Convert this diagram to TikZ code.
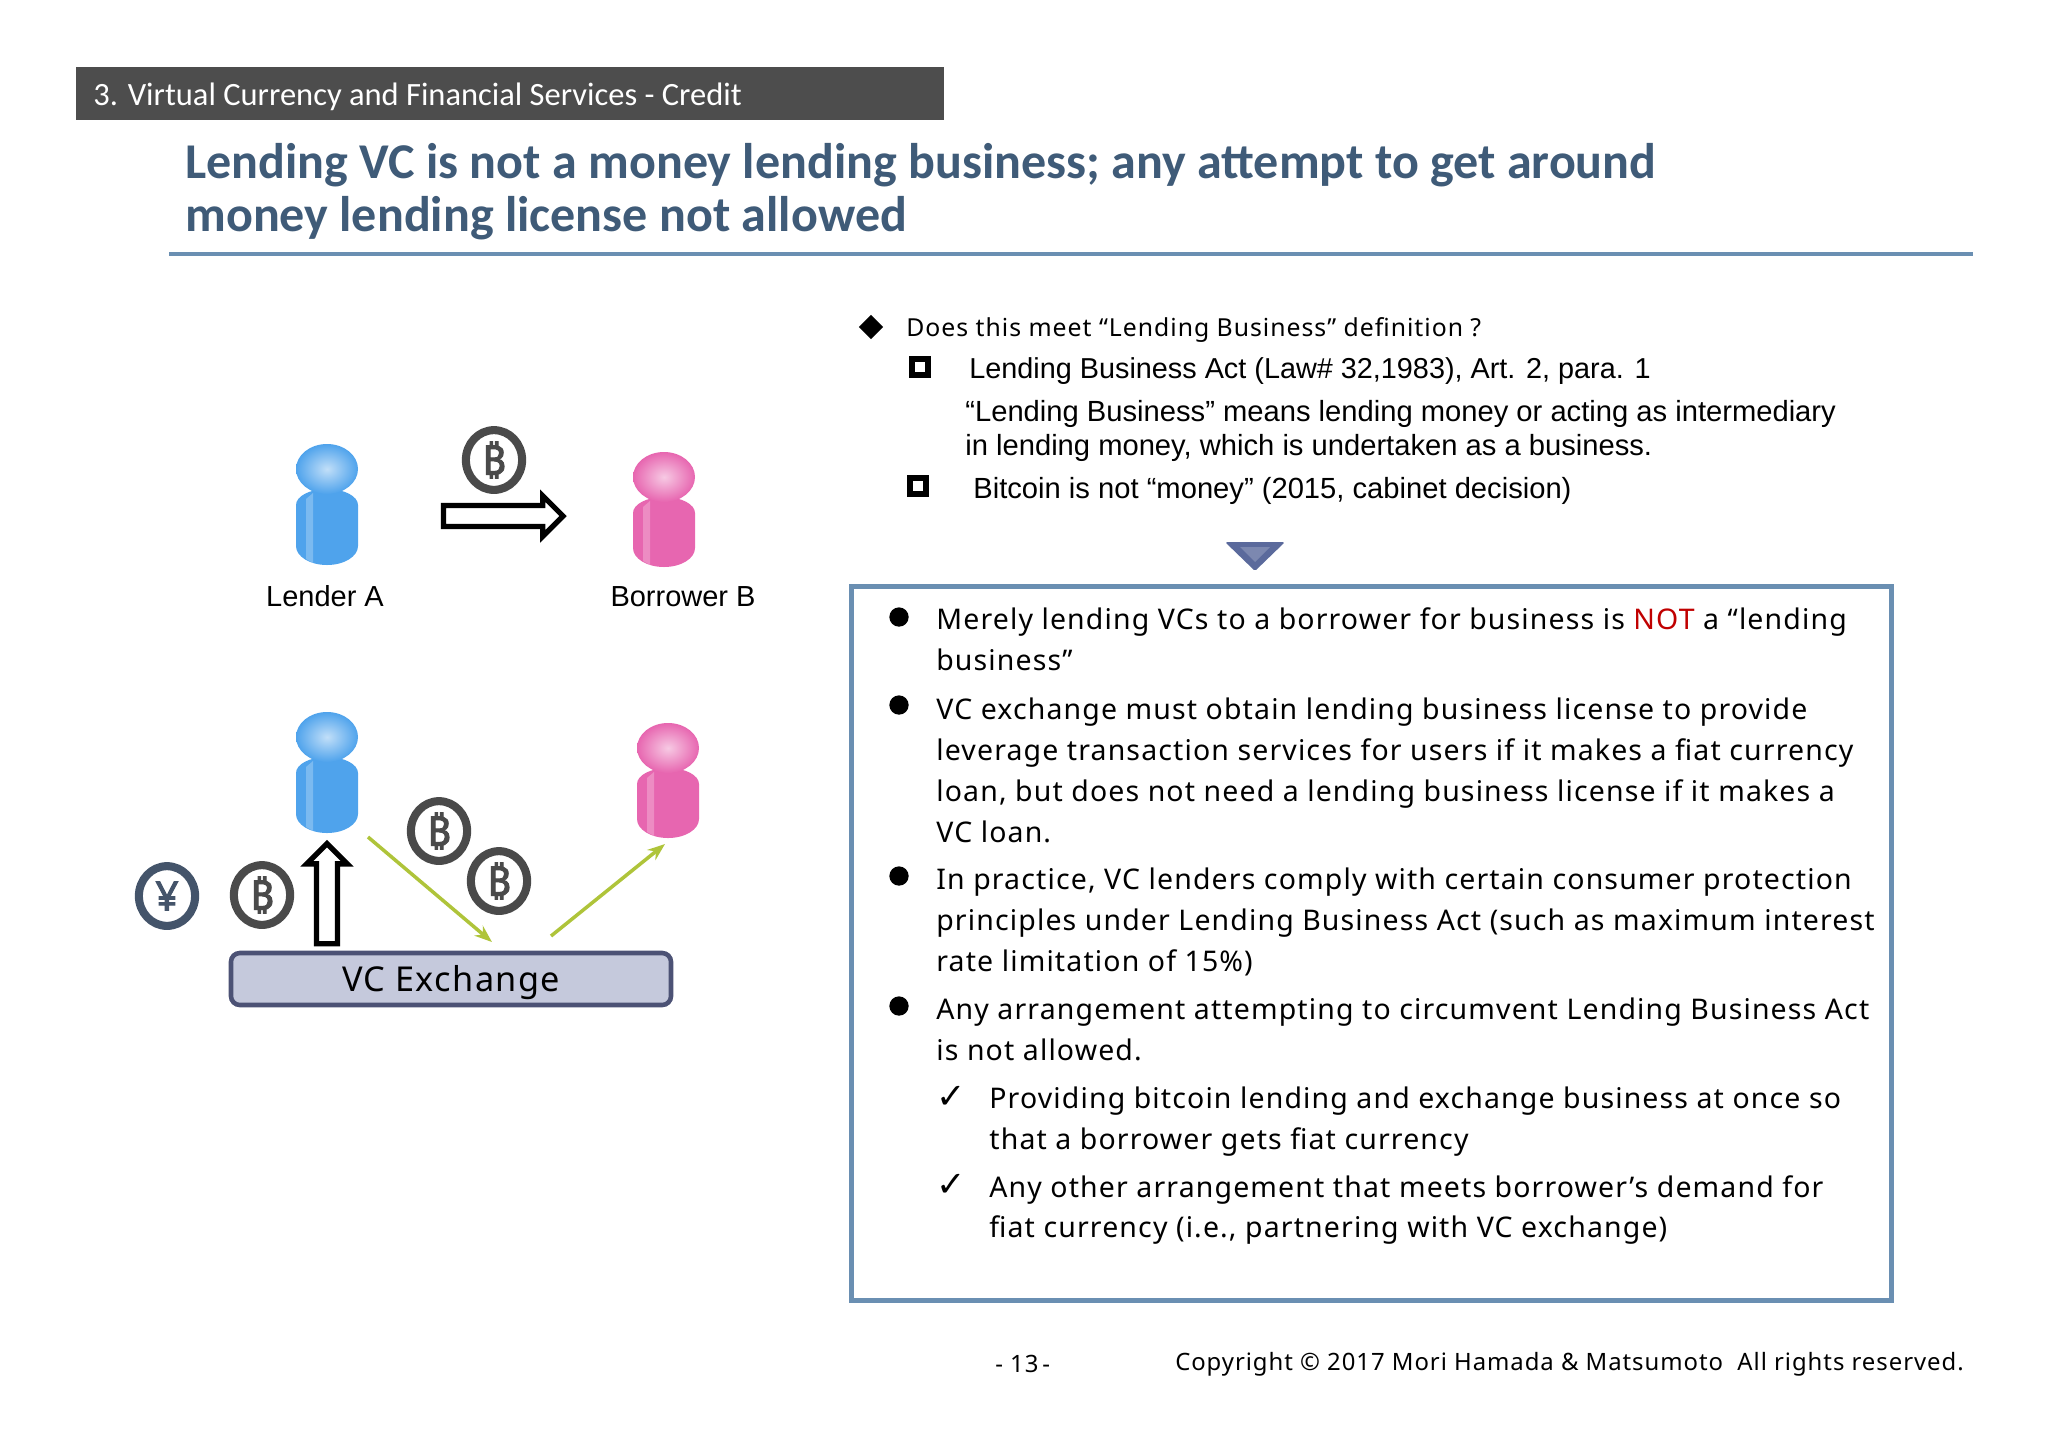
\documentclass[tikz,border=0pt]{standalone}
\usepackage{fontspec}
\usetikzlibrary{shapes.geometric,shapes.arrows,arrows.meta}
\setmainfont{Liberation Sans}
\newfontfamily\bodyfont[LetterSpace=4]{Noto Sans}
\newfontfamily\titlefont{Carlito}
\newfontfamily\symbolfont{DejaVu Sans}
\newfontfamily\coinfont[FakeBold=2.5]{Noto Sans}
\definecolor{titleblue}{HTML}{3F5B78}
\definecolor{ruleblue}{HTML}{6A8FB2}
\definecolor{headgrey}{HTML}{4D4D4D}
\definecolor{coingrey}{HTML}{4A4A4A}
\definecolor{yenblue}{HTML}{44546A}
\definecolor{lenderblue}{HTML}{4FA3EC}
\definecolor{borrowerpink}{HTML}{E766B0}
\definecolor{arrowgreen}{HTML}{AFC43A}
\definecolor{boxfill}{HTML}{C5C9DC}
\definecolor{boxline}{HTML}{4C5275}
\definecolor{triblue}{HTML}{5B6A9C}
\tikzstyle{coin} = [ellipse, draw=coingrey, fill=white, line width=4.6pt, minimum width=32pt, minimum height=34pt, inner sep=0pt, text=coingrey, font=\coinfont\fontsize{23}{23}\selectfont]
\tikzstyle{hollow} = [single arrow, draw=black, fill=white, line width=3pt, inner sep=0pt, text height=9pt, text depth=0pt, single arrow head extend=5.5pt, single arrow head indent=0pt, minimum height=68pt]
\tikzstyle{green} = [draw=arrowgreen, line width=2pt, -{Stealth[length=3.5mm, width=2.6mm]}]
\tikzstyle{body} = [anchor=west, align=left, inner sep=0pt, font=\bodyfont\fontsize{16.2}{23.3}\selectfont]
\tikzstyle{plain} = [anchor=west, align=left, inner sep=0pt, font=\fontsize{16.6}{19.7}\selectfont]
\tikzstyle{dot} = [circle, fill=black, inner sep=0pt, minimum size=11pt]
\tikzstyle{tick} = [inner sep=0pt, font=\symbolfont\fontsize{20}{20}\selectfont]
\tikzstyle{sqr} = [draw=black, line width=3pt, fill=white, inner sep=0pt, minimum size=9pt]
\newcommand{\person}[4]{%
    \fill[#3] (#1-31,#2+36) arc (-180:0:31 and 16) -- (#1+31,#2+#4) arc (0:180:31 and 19) -- cycle;
    \fill[white, opacity=.25] (#1-21,#2+30) -- (#1-14,#2+24) -- (#1-14,#2+#4+17) -- (#1-21,#2+#4+13) -- cycle;
    \shade[inner color=white!65!#3, outer color=#3, shading=radial] (#1,#2) ellipse (31 and 25);
}
\begin{document}
\begin{tikzpicture}[x=0.02cm, y=-0.02cm]
        \useasboundingbox (0,0) rectangle (2048,1448);

        \node[fill=headgrey, minimum width=868*0.02cm, minimum height=53*0.02cm, anchor=north west, inner sep=0pt] (header) at (76,67) {};
        \node[anchor=west, text=white, inner sep=0pt, font=\titlefont\fontsize{18.5}{18.5}\selectfont] (headertext) at (93,97) {3. Virtual Currency and Financial Services - Credit};

        \node[anchor=west, align=left, inner sep=0pt, text=titleblue, font=\titlefont\bfseries\fontsize{28.5}{30.2}\selectfont] (title) at (185,192) {Lending VC is not a money lending business; any attempt to get around\\money lending license not allowed};
        \coordinate (ruleleft) at (169,254);
        \coordinate (ruleright) at (1973,254);
        \draw[ruleblue, line width=2.2pt] (ruleleft) -- (ruleright);

        \person{327}{469}{lenderblue}{77}
        \person{664}{477}{borrowerpink}{71}
        \person{327}{737}{lenderblue}{77}
        \person{668}{748}{borrowerpink}{71}

        \node[coin] (coinA) at (494,460) {\char"20BF};
        \node[hollow] (transfer) at (498,516) {};
        \node[inner sep=0pt, font=\fontsize{16.5}{18}\selectfont] (lender) at (325,596) {Lender A};
        \node[inner sep=0pt, font=\fontsize{16.5}{18}\selectfont] (borrower) at (683,597) {Borrower B};

        \node[draw=boxline, fill=boxfill, line width=2.6pt, rounded corners=5pt, minimum width=440*0.02cm, minimum height=52*0.02cm, inner sep=0pt, text height=14pt, text depth=0pt, font=\bodyfont\fontsize{19.5}{19.5}\selectfont] (exchange) at (451,979) {VC Exchange};
        \node[hollow, rotate=90, minimum height=57pt] (loan) at (327,899) {};
        \node[coin] (coinB) at (439,831) {\char"20BF};
        \node[coin] (coinC) at (499,881) {\char"20BF};
        \node[coin] (coinD) at (262,895) {\char"20BF};
        \node[coin, draw=yenblue, text=yenblue] (yen) at (167,896) {¥};
        \coordinate (greenA) at (368,837);
        \coordinate (greenB) at (492,942);
        \coordinate (greenC) at (551,936);
        \coordinate (greenD) at (665,844);
        \draw[green] (greenA) -- (greenB);
        \draw[green] (greenC) -- (greenD);

        \node[diamond, fill=black, inner sep=0pt, minimum size=14pt] (dia) at (871,327) {};
        \node[body, font=\bodyfont\fontsize{14.1}{18}\selectfont] (question) at (906,330) {Does this meet “Lending Business” definition ?};
        \node[sqr] (sqrA) at (920,367) {};
        \node[plain, font=\fontsize{16.4}{20}\selectfont] (act) at (969,371) {Lending Business Act (Law\# 32,1983), Art. 2, para. 1};
        \node[plain] (meaning) at (965,431) {“Lending Business” means lending money or acting as intermediary\\in lending money, which is undertaken as a business.};
        \node[sqr] (sqrB) at (918,486) {};
        \node[plain] (money) at (973,491) {Bitcoin is not “money” (2015, cabinet decision)};

        \fill[triblue, rounded corners=1pt] (1225,542) -- (1285,542) -- (1255,571) -- cycle;
        \fill[white!20!triblue] (1240,547) -- (1270,547) -- (1255,562) -- cycle;

        \node[draw=ruleblue, line width=2.6pt, minimum width=1040*0.02cm, minimum height=714*0.02cm, inner sep=0pt, anchor=north west] (frame) at (849,584) {};

        \node[dot] (dotA) at (899,617) {};
        \node[body] (pointA) at (936,639) {Merely lending VCs to a borrower for business is \textcolor[HTML]{C00000}{NOT} a “lending\\business”};
        \node[dot] (dotB) at (899,705) {};
        \node[body] (pointB) at (936,770) {VC exchange must obtain lending business license to provide\\leverage transaction services for users if it makes a fiat currency\\loan, but does not need a lending business license if it makes a\\VC loan.};
        \node[dot] (dotC) at (899,876) {};
        \node[body] (pointC) at (936,922) {In practice, VC lenders comply with certain consumer protection\\principles under Lending Business Act (such as maximum interest\\rate limitation of 15\%)};
        \node[dot] (dotD) at (899,1006) {};
        \node[body] (pointD) at (936,1029) {Any arrangement attempting to circumvent Lending Business Act\\is not allowed.};
        \node[tick] (tickA) at (951,1097) {✓};
        \node[body] (subA) at (989,1122) {Providing bitcoin lending and exchange business at once so\\that a borrower gets fiat currency};
        \node[tick] (tickB) at (951,1185) {✓};
        \node[body] (subB) at (989,1210) {Any other arrangement that meets borrower’s demand for\\fiat currency (i.e., partnering with VC exchange)};

        \node[inner sep=0pt, anchor=west, font=\bodyfont\fontsize{13.6}{13.6}\selectfont] (page) at (995,1364) {- 13\,-};
        \node[inner sep=0pt, anchor=east, font=\bodyfont\fontsize{13.6}{13.6}\selectfont] (copyright) at (1964,1364) {Copyright © 2017 Mori Hamada \& Matsumoto\ \ All rights reserved.};
    \end{tikzpicture}
\end{document}
